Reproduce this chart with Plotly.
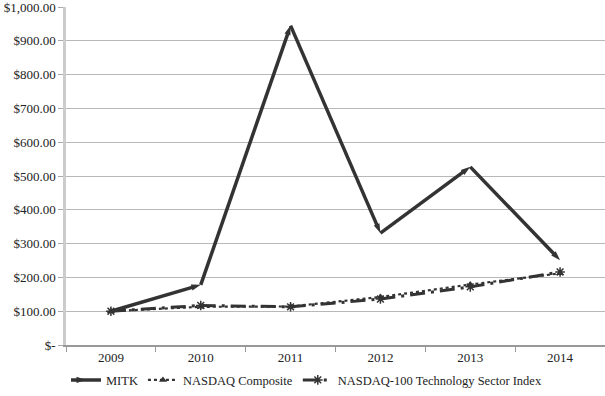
import plotly.graph_objects as go

years = ["2009", "2010", "2011", "2012", "2013", "2014"]
mitk = [100, 178, 945, 331, 527, 251]
nasdaq_comp = [100, 113, 114, 142, 179, 212]
nasdaq_tech = [100, 117, 113, 136, 172, 216]
ytick_vals = [0, 100, 200, 300, 400, 500, 600, 700, 800, 900, 1000]
ytick_text = ["$-", "$100.00", "$200.00", "$300.00", "$400.00", "$500.00",
              "$600.00", "$700.00", "$800.00", "$900.00", "$1,000.00"]

SERIF = "Times New Roman"

fig = go.Figure()
fig.add_trace(go.Scatter(
    x=years, y=mitk, name="MITK", mode="lines+markers",
    line=dict(color="#333333", width=3.5),
    marker=dict(symbol="arrow", size=10, angleref="previous", color="#333333"),
))
fig.add_trace(go.Scatter(
    x=years, y=nasdaq_comp, name="NASDAQ Composite", mode="lines+markers",
    line=dict(color="#333333", width=2.2, dash="dot"),
    marker=dict(symbol="triangle-up", size=7, color="#333333"),
))
fig.add_trace(go.Scatter(
    x=years, y=nasdaq_tech, name="NASDAQ-100 Technology Sector Index", mode="lines+markers",
    line=dict(color="#333333", width=3, dash="longdashdot"),
    marker=dict(symbol="asterisk-open", size=8, color="#333333",
                line=dict(color="#333333", width=1.5)),
))

fig.update_layout(
    width=605, height=396,
    margin=dict(l=66, r=0, t=7, b=51, autoexpand=False),
    paper_bgcolor="white", plot_bgcolor="white",
    font=dict(family=SERIF, size=13, color="#222222"),
    showlegend=True,
    legend=dict(orientation="h", x=0.0, xanchor="left", y=-0.06, yanchor="top",
                font=dict(family=SERIF, size=12.5, color="#222222"),
                tracegroupgap=0),
)
fig.update_xaxes(
    type="category", range=[-0.5, 5.5], tickson="boundaries",
    ticks="outside", ticklen=5, tickcolor="#999999",
    showline=True, linecolor="#999999", linewidth=1.5,
    showgrid=False, tickfont=dict(family=SERIF, size=13),
    automargin=False,
)
fig.update_yaxes(
    range=[0, 1000], tickvals=ytick_vals, ticktext=ytick_text,
    ticks="outside", ticklen=5, tickcolor="#aaaaaa",
    showline=True, linecolor="#cccccc", linewidth=2.5,
    showgrid=True, gridcolor="#b8b8b8", gridwidth=1.2,
    zeroline=False, tickfont=dict(family=SERIF, size=13),
    automargin=False, ticklabeloverflow="allow",
)
fig.write_html("out.html", config={"displayModeBar": False},
               post_script="document.body.style.margin='0';")
